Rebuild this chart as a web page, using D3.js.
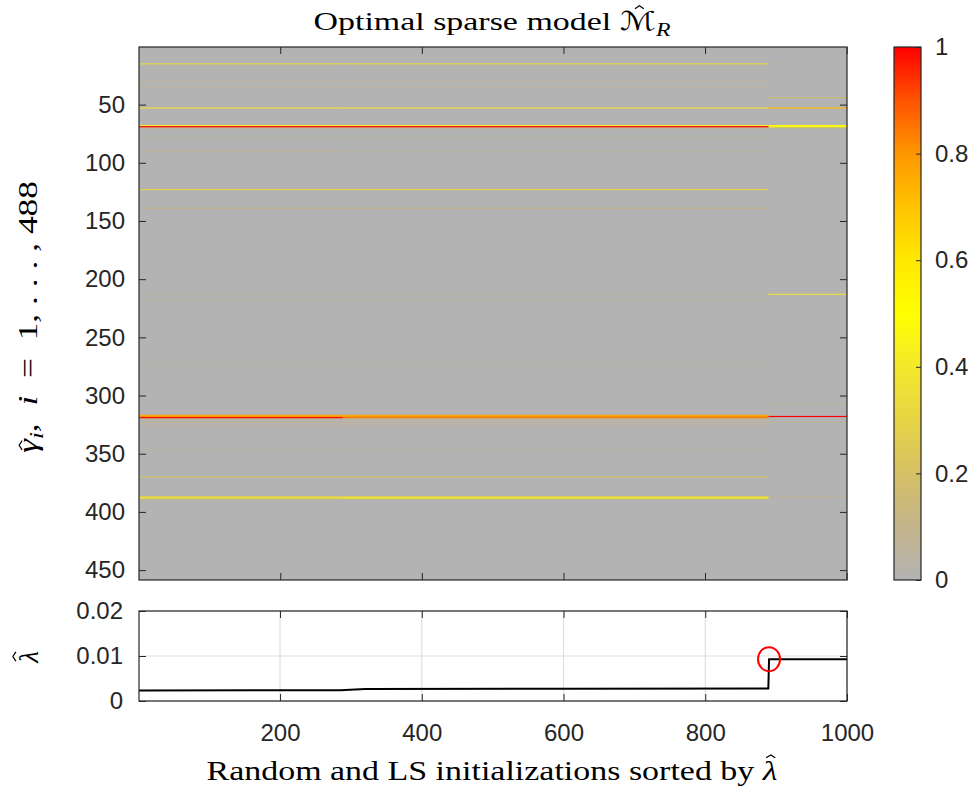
<!DOCTYPE html>
<html>
<head>
<meta charset="utf-8">
<script src="https://cdn.jsdelivr.net/npm/d3@7"></script>
<style>
  body { margin: 0; background: #fff; }
  svg { display: block; }
</style>
</head>
<body>
<svg id="chart" width="974" height="790"></svg>
<script>
// ---- data -------------------------------------------------------------
// Number of candidate parameters (rows) and of initializations (columns)
const nRows = 458;
const nInit = 1000;

// Column blocks of initializations (sorted by lambda-hat)
const blockStart = [1, 289, 890];
const blockEnd   = [288, 889, 1000];

// Rows that were selected at least sometimes, with their selection
// frequency inside each column block (all other cells are 0)
const rowIndex   = [15,   30,   35,   44,   53,   68,   69,   70,   79,   90,   123,  139,  213,  218,  272,  307,  317,  318,  319,  320,  323,  326,  347,  370,  387,  388,  389];
const freqBlockA = [0.30, 0.06, 0.05, 0.00, 0.36, 0.42, 1.00, 0.12, 0.05, 0.06, 0.28, 0.10, 0.04, 0.05, 0.03, 0.00, 0.76, 0.80, 1.00, 0.12, 0.08, 0.06, 0.04, 0.20, 0.30, 0.42, 0.12];
const freqBlockB = [0.30, 0.06, 0.05, 0.00, 0.36, 0.42, 1.00, 0.12, 0.05, 0.04, 0.28, 0.10, 0.04, 0.05, 0.03, 0.00, 0.76, 0.80, 0.84, 0.12, 0.08, 0.06, 0.04, 0.20, 0.30, 0.48, 0.12];
const freqBlockC = [0.02, 0.00, 0.00, 0.15, 0.72, 0.50, 0.50, 0.10, 0.00, 0.00, 0.00, 0.00, 0.36, 0.00, 0.00, 0.05, 0.00, 1.00, 0.00, 0.00, 0.05, 0.00, 0.00, 0.00, 0.06, 0.00, 0.00];

// Tick values
const heatXTicks   = [200, 400, 600, 800, 1000];
const heatYTicks   = [50, 100, 150, 200, 250, 300, 350, 400, 450];
const colorTicks   = [0, 0.2, 0.4, 0.6, 0.8, 1];
const lambdaXTicks = [200, 400, 600, 800, 1000];
const lambdaYTicks = [0, 0.01, 0.02];

// Estimated regularisation parameter for each sorted initialization
const lambdaIdx = [1,       285,     320,     600,     889,     890,    1000];
const lambdaVal = [0.00235, 0.00240, 0.00268, 0.00274, 0.00280, 0.0093, 0.0093];

// Chosen (optimal) initialization
const selectedIdx = 890;
const selectedLambda = 0.0093;

// Colormap: grey -> khaki -> yellow -> orange -> red
const cmapPos   = [0, 0.1, 0.2, 0.3, 0.4, 0.5, 0.6, 0.7, 0.8, 0.9, 1];
const cmapColor = ["#b3b3b3", "#c3b48a", "#d5c065", "#e7d445", "#f4e82c", "#ffff00",
                   "#ffe800", "#ffc300", "#ff9700", "#ff5200", "#ff0000"];

// ---- layout -----------------------------------------------------------
const svg = d3.select("#chart");
const axisColor = "#262626";
const tickFont = "'Liberation Sans', Arial, Helvetica, sans-serif";
const tickSize = 24;
const mathFont = "'Liberation Serif', 'Times New Roman', serif";

const heat = { x0: 139, x1: 847, y0: 47, y1: 580 };
const cbar = { x0: 894, x1: 921, y0: 47, y1: 580 };
const lam  = { x0: 139, x1: 847, y0: 611, y1: 701 };

const color = d3.scaleLinear().domain(cmapPos).range(cmapColor)
  .interpolate(d3.interpolateRgb).clamp(true);

const xH = d3.scaleLinear().domain([0.5, nInit + 0.5]).range([heat.x0, heat.x1]);
const yH = d3.scaleLinear().domain([0.5, nRows + 0.5]).range([heat.y0, heat.y1]);

function styleAxis(g) {
  g.select(".domain").remove();
  g.attr("color", axisColor)
    .attr("font-family", tickFont)
    .attr("font-size", tickSize);
}

// Mixed roman/italic label with optional hats and subscripts,
// fitted to a given overall length
function mathText(parent, parts, size, x, y, length, adjust) {
  const t = parent.append("text")
    .attr("x", x).attr("y", y)
    .attr("text-anchor", "middle")
    .attr("font-family", mathFont)
    .attr("font-size", size)
    .attr("fill", "#000");
  if (length) t.attr("textLength", length).attr("lengthAdjust", adjust || "spacingAndGlyphs");
  let idx = 0, inSub = false;
  const hats = [];
  parts.forEach(p => {
    const ts = t.append("tspan").text(p.t);
    if (p.it) ts.attr("font-style", "italic");
    if (p.fam) ts.attr("font-family", p.fam);
    if (p.sub) {
      ts.attr("font-size", size * 0.7);
      if (!inSub) ts.attr("dy", size * 0.22);
      inSub = true;
    } else if (inSub) {
      ts.attr("dy", -size * 0.22);
      inSub = false;
    }
    if (p.hat) hats.push({ i: idx, h: p.hat, shift: p.shift || 0 });
    idx += p.t.length;
  });
  hats.forEach(hd => {
    const e = t.node().getExtentOfChar(hd.i);
    const cx = e.x + e.width / 2 + hd.shift * size;
    const by = y - hd.h * size;
    const w = 0.17 * size, h = 0.11 * size;
    parent.append("path")
      .attr("d", `M${cx - w},${by} L${cx},${by - h} L${cx + w},${by}`)
      .attr("fill", "none").attr("stroke", "#000")
      .attr("stroke-width", Math.max(1, size * 0.045));
  });
  return t;
}

// ---- heat map -----------------------------------------------------------
const heatG = svg.append("g");
heatG.append("rect")
  .attr("x", heat.x0).attr("y", heat.y0)
  .attr("width", heat.x1 - heat.x0).attr("height", heat.y1 - heat.y0)
  .attr("fill", color(0));

const cells = [];
const blockFreq = [freqBlockA, freqBlockB, freqBlockC];
rowIndex.forEach((r, i) => {
  blockFreq.forEach((f, b) => {
    if (f[i] > 0) cells.push({ row: r, b: b, v: f[i] });
  });
});
cells.sort((a, b) => a.v - b.v);

heatG.selectAll("rect.cell").data(cells).join("rect")
  .attr("class", "cell")
  .attr("x", d => xH(blockStart[d.b] - 0.5))
  .attr("width", d => xH(blockEnd[d.b] + 0.5) - xH(blockStart[d.b] - 0.5))
  .attr("y", d => yH(d.row - 0.5))
  .attr("height", d => yH(d.row + 0.5) - yH(d.row - 0.5))
  .attr("fill", d => color(d.v));

// heat map axes (ticks point inward)
svg.append("g").attr("transform", `translate(${heat.x0},0)`)
  .call(d3.axisLeft(yH).tickValues(heatYTicks).tickSizeInner(-7).tickSizeOuter(0).tickPadding(14))
  .call(styleAxis);
svg.append("g").attr("transform", `translate(${heat.x1},0)`)
  .call(d3.axisRight(yH).tickValues(heatYTicks).tickSizeInner(-7).tickSizeOuter(0).tickFormat(""))
  .call(styleAxis);
svg.append("g").attr("transform", `translate(0,${heat.y0})`)
  .call(d3.axisTop(xH).tickValues(heatXTicks).tickSizeInner(-7).tickSizeOuter(0).tickFormat(""))
  .call(styleAxis);
svg.append("g").attr("transform", `translate(0,${heat.y1})`)
  .call(d3.axisBottom(xH).tickValues(heatXTicks).tickSizeInner(-7).tickSizeOuter(0).tickFormat(""))
  .call(styleAxis);
svg.append("rect")
  .attr("x", heat.x0).attr("y", heat.y0)
  .attr("width", heat.x1 - heat.x0).attr("height", heat.y1 - heat.y0)
  .attr("fill", "none").attr("stroke", axisColor).attr("stroke-width", 1.2);

// title
mathText(svg, [
  { t: "Optimal sparse model " },
  { t: "\u2133", fam: "'DejaVu Serif', 'DejaVu Sans', serif", hat: 0.82, shift: 0.06 },
  { t: "R", it: true, sub: true }
], 26, 492, 30, 357);

// y label of the heat map
const ylabG = svg.append("g").attr("transform", "translate(37,317) rotate(-90)");
mathText(ylabG, [
  { t: "\u03b3", it: true, hat: 0.55, shift: 0.03 },
  { t: "i", it: true, sub: true },
  { t: ",\u2002" },
  { t: "i", it: true },
  { t: "\u2002=\u20021, . . . , 488" }
], 27, 0, 0, 272, "spacingAndGlyphs");

// ---- colour bar -----------------------------------------------------------
const cY = d3.scaleLinear().domain([0, 1]).range([cbar.y1, cbar.y0]);
const grad = svg.append("defs").append("linearGradient")
  .attr("id", "cbarGrad").attr("x1", 0).attr("y1", 1).attr("x2", 0).attr("y2", 0);
grad.selectAll("stop").data(cmapPos).join("stop")
  .attr("offset", d => d)
  .attr("stop-color", (d, i) => cmapColor[i]);
svg.append("rect")
  .attr("x", cbar.x0).attr("y", cbar.y0)
  .attr("width", cbar.x1 - cbar.x0).attr("height", cbar.y1 - cbar.y0)
  .attr("fill", "url(#cbarGrad)");
svg.append("g").attr("transform", `translate(${cbar.x1},0)`)
  .call(d3.axisRight(cY).tickValues(colorTicks).tickSizeInner(-5).tickSizeOuter(0).tickPadding(14)
    .tickFormat(d3.format("~g")))
  .call(styleAxis);
svg.append("rect")
  .attr("x", cbar.x0).attr("y", cbar.y0)
  .attr("width", cbar.x1 - cbar.x0).attr("height", cbar.y1 - cbar.y0)
  .attr("fill", "none").attr("stroke", axisColor).attr("stroke-width", 1.2);

// ---- lambda-hat panel ------------------------------------------------------
const xL = d3.scaleLinear().domain([1, nInit]).range([lam.x0, lam.x1]);
const yL = d3.scaleLinear().domain([0, 0.02]).range([lam.y1, lam.y0]);

const lamG = svg.append("g");
lamG.append("rect")
  .attr("x", lam.x0).attr("y", lam.y0)
  .attr("width", lam.x1 - lam.x0).attr("height", lam.y1 - lam.y0)
  .attr("fill", "#fff");

// grid
lamG.selectAll("line.vgrid").data(lambdaXTicks).join("line")
  .attr("class", "vgrid")
  .attr("x1", d => xL(d)).attr("x2", d => xL(d))
  .attr("y1", lam.y0).attr("y2", lam.y1)
  .attr("stroke", "#e0e0e0").attr("stroke-width", 1.2);
lamG.selectAll("line.hgrid").data(lambdaYTicks).join("line")
  .attr("class", "hgrid")
  .attr("x1", lam.x0).attr("x2", lam.x1)
  .attr("y1", d => yL(d)).attr("y2", d => yL(d))
  .attr("stroke", "#e0e0e0").attr("stroke-width", 1.2);

// axes
svg.append("g").attr("transform", `translate(0,${lam.y1})`)
  .call(d3.axisBottom(xL).tickValues(lambdaXTicks).tickSizeInner(-7).tickSizeOuter(0).tickPadding(23)
    .tickFormat(d3.format("d")))
  .call(styleAxis);
svg.append("g").attr("transform", `translate(0,${lam.y0})`)
  .call(d3.axisTop(xL).tickValues(lambdaXTicks).tickSizeInner(-7).tickSizeOuter(0).tickFormat(""))
  .call(styleAxis);
svg.append("g").attr("transform", `translate(${lam.x0},0)`)
  .call(d3.axisLeft(yL).tickValues(lambdaYTicks).tickSizeInner(-7).tickSizeOuter(0).tickPadding(16)
    .tickFormat(d3.format("~g")))
  .call(styleAxis);
svg.append("g").attr("transform", `translate(${lam.x1},0)`)
  .call(d3.axisRight(yL).tickValues(lambdaYTicks).tickSizeInner(-7).tickSizeOuter(0).tickFormat(""))
  .call(styleAxis);

// lambda-hat curve
const lamData = lambdaIdx.map((x, i) => ({ x: x, y: lambdaVal[i] }));
svg.append("path")
  .datum(lamData)
  .attr("d", d3.line().x(d => xL(d.x)).y(d => yL(d.y)))
  .attr("fill", "none").attr("stroke", "#000").attr("stroke-width", 2);

// selected initialization
svg.append("ellipse")
  .attr("cx", xL(selectedIdx)).attr("cy", yL(selectedLambda))
  .attr("rx", 11).attr("ry", 12)
  .attr("fill", "none").attr("stroke", "#ff0000").attr("stroke-width", 2);

svg.append("rect")
  .attr("x", lam.x0).attr("y", lam.y0)
  .attr("width", lam.x1 - lam.x0).attr("height", lam.y1 - lam.y0)
  .attr("fill", "none").attr("stroke", axisColor).attr("stroke-width", 1.2);

// labels of the lambda-hat panel
const lylab = svg.append("g").attr("transform", "translate(38,657) rotate(-90)");
mathText(lylab, [{ t: "\u03bb", it: true, hat: 0.82, shift: 0.02 }], 27, 0, 0);

mathText(svg, [
  { t: "Random and LS initializations sorted by " },
  { t: "\u03bb", it: true, hat: 0.82, shift: 0.02 }
], 27, 492, 780, 571);
</script>
</body>
</html>
